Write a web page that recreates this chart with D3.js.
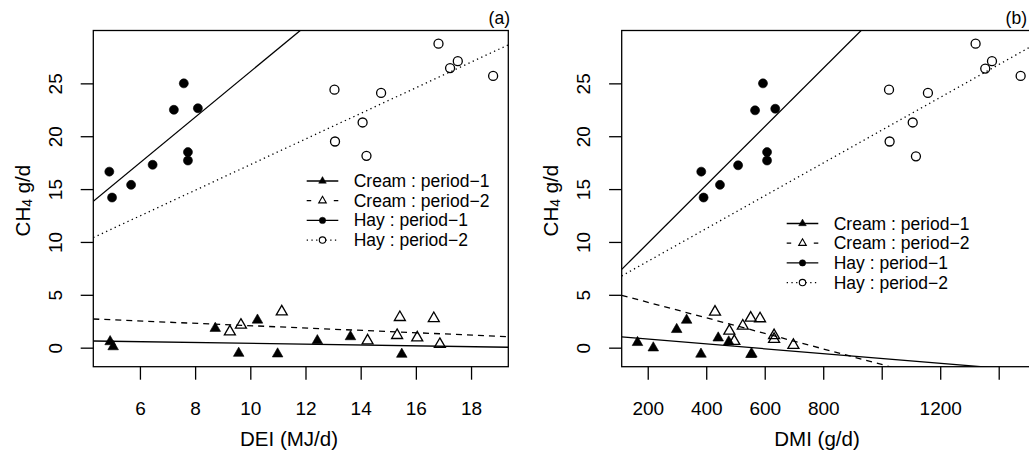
<!DOCTYPE html>
<html>
<head>
<meta charset="utf-8">
<script src="https://cdn.jsdelivr.net/npm/d3@7"></script>
<style>
  body { margin: 0; background: #fff; }
  svg { display: block; }
  text { font-family: "Liberation Sans", Arial, Helvetica, sans-serif; fill: #000; }
</style>
</head>
<body>
<svg id="chart" width="1029" height="452"></svg>
<script>
// ---------- Panel (a): CH4 against digestible energy intake (MJ/d) ----------
const deiCreamP1 = [4.92, 5.03, 8.73, 9.58, 10.26, 10.99, 12.43, 13.63, 15.49];
const ch4CreamP1a = [0.57, 0.09, 1.83, -0.53, 2.61, -0.59, 0.66, 1.04, -0.62];
const deiCreamP2 = [9.26, 9.66, 11.14, 14.25, 15.32, 15.42, 16.05, 16.65, 16.87];
const ch4CreamP2a = [1.51, 2.14, 3.40, 0.66, 1.17, 2.87, 0.94, 2.77, 0.32];
const deiHayP1 = [4.89, 4.99, 5.68, 6.46, 7.23, 7.59, 7.74, 7.74, 8.10];
const ch4HayP1a = [16.65, 14.2, 15.4, 17.3, 22.5, 25.0, 18.5, 17.7, 22.65];
const deiHayP2 = [13.05, 13.07, 14.07, 14.21, 14.74, 16.82, 17.24, 17.52, 18.80];
const ch4HayP2a = [24.4, 19.5, 21.3, 18.15, 24.1, 28.75, 26.45, 27.1, 25.7];
// fitted lines, order: Cream p1, Cream p2, Hay p1, Hay p2
const fitInterceptA = [0.80, 3.19, 4.56, 5.19];
const fitSlopeA = [-0.0392, -0.111, 2.154, 1.212];
const deiTicks = [6, 8, 10, 12, 14, 16, 18];

// ---------- Panel (b): CH4 against dry matter intake (g/d) ----------
const dmiCreamP1 = [165, 219, 299, 333, 382, 441, 477, 553, 556];
const ch4CreamP1b = [0.49, -0.02, 1.72, 2.60, -0.61, 0.92, 0.55, -0.64, -0.60];
const dmiCreamP2 = [430, 479, 496, 525, 552, 584, 632, 632, 698];
const ch4CreamP2b = [3.38, 1.58, 0.61, 2.06, 2.81, 2.75, 1.15, 0.80, 0.24];
const dmiHayP1 = [383, 391, 447, 509, 567, 594, 608, 608, 636];
const ch4HayP1b = [16.65, 14.2, 15.4, 17.25, 22.45, 25.0, 18.5, 17.7, 22.6];
const dmiHayP2 = [1025, 1027, 1106, 1117, 1158, 1321, 1354, 1377, 1475];
const ch4HayP2b = [24.4, 19.5, 21.3, 18.1, 24.1, 28.75, 26.4, 27.1, 25.7];
const fitInterceptB = [1.27, 5.77, 4.34, 5.06];
const fitSlopeB = [-0.00229, -0.00736, 0.0276, 0.01551];
const dmiTicks = [200, 400, 600, 800, 1000, 1200, 1400];
const dmiTickLabels = ["200", "400", "600", "800", "", "1200", ""];

const ch4Ticks = [0, 5, 10, 15, 20, 25];
const legendLabels = ["Cream : period\u22121", "Cream : period\u22122", "Hay : period\u22121", "Hay : period\u22122"];

// ---------- shared styling ----------
const groupStyle = [
  { shape: "triangle", filled: true,  dash: null },
  { shape: "triangle", filled: false, dash: "6,5" },
  { shape: "circle",   filled: true,  dash: null },
  { shape: "circle",   filled: false, dash: "1.3,3.4" }
];
const legendDash = [null, "4.5,22.6", null, "1.3,3.4"];

const svg = d3.select("#chart");
const yDomain = [-1.8, 30.0];
const plotTop = 30.5, plotBottom = 366.7;

function markPath(shape, size) {
  if (shape === "circle") {
    const r = size;
    return `M${-r},0a${r},${r} 0 1,0 ${2 * r},0a${r},${r} 0 1,0 ${-2 * r},0Z`;
  }
  // point-up triangle centred on its centroid; size = half base width
  const h = size * Math.sqrt(3);
  return `M0,${-2 * h / 3}L${size},${h / 3}L${-size},${h / 3}Z`;
}

function drawPanel(cfg) {
  const x = d3.scaleLinear().domain(cfg.xDomain).range([cfg.left, cfg.right]);
  const y = d3.scaleLinear().domain(yDomain).range([plotBottom, plotTop]);
  const g = svg.append("g");
  const clipId = "clip-" + cfg.tag;

  g.append("clipPath").attr("id", clipId)
    .append("rect")
    .attr("x", cfg.left).attr("y", plotTop)
    .attr("width", cfg.right - cfg.left).attr("height", plotBottom - plotTop);

  // fitted lines
  const lineGen = d3.line().x(d => x(d[0])).y(d => y(d[1]));
  const lines = g.append("g").attr("clip-path", `url(#${clipId})`);
  cfg.intercepts.forEach((b0, i) => {
    const b1 = cfg.slopes[i];
    const pts = cfg.xDomain.map(v => [v, b0 + b1 * v]);
    lines.append("path")
      .attr("d", lineGen(pts))
      .attr("fill", "none")
      .attr("stroke", "#000")
      .attr("stroke-width", 1.3)
      .attr("stroke-dasharray", groupStyle[i].dash);
  });

  // points
  cfg.groups.forEach((grp, i) => {
    const st = groupStyle[i];
    const size = st.shape === "circle" ? 4.5 : (st.filled ? 5.3 : 5.5);
    g.append("g").selectAll("path")
      .data(grp.xs.map((v, k) => [v, grp.ys[k]]))
      .join("path")
      .attr("transform", d => `translate(${x(d[0])},${y(d[1])})`)
      .attr("d", markPath(st.shape, size))
      .attr("fill", st.filled ? "#000" : "none")
      .attr("stroke", "#000")
      .attr("stroke-width", st.filled ? 0.6 : 1.3)
      .attr("stroke-linejoin", "miter");
  });

  // box
  g.append("rect")
    .attr("x", cfg.left).attr("y", plotTop)
    .attr("width", cfg.right - cfg.left).attr("height", plotBottom - plotTop)
    .attr("fill", "none").attr("stroke", "#000").attr("stroke-width", 1.3);

  // x axis
  const xAxis = g.append("g")
    .attr("transform", `translate(0,${plotBottom})`)
    .call(d3.axisBottom(x).tickValues(cfg.xTicks).tickSize(13).tickSizeOuter(0)
      .tickFormat((d, i) => cfg.xTickLabels[i]));
  xAxis.select(".domain").remove();
  xAxis.selectAll(".tick line").attr("stroke", "#000").attr("stroke-width", 1.3);
  xAxis.selectAll(".tick text")
    .attr("y", 48.5).attr("dy", null)
    .attr("font-size", 19)
    .attr("font-family", "Liberation Sans, Arial, sans-serif");

  // y axis
  const yAxis = g.append("g")
    .attr("transform", `translate(${cfg.left},0)`)
    .call(d3.axisLeft(y).tickValues(ch4Ticks).tickSize(12.6).tickSizeOuter(0));
  yAxis.select(".domain").remove();
  yAxis.selectAll(".tick line").attr("stroke", "#000").attr("stroke-width", 1.3);
  yAxis.selectAll(".tick text")
    .attr("x", null).attr("dy", null)
    .attr("transform", "translate(-38.3,0) rotate(-90)")
    .attr("text-anchor", "middle")
    .attr("dominant-baseline", "central")
    .attr("font-size", 19)
    .attr("font-family", "Liberation Sans, Arial, sans-serif");

  // axis titles
  g.append("text")
    .attr("x", cfg.xTitleX).attr("y", 446)
    .attr("text-anchor", "middle")
    .attr("font-size", 20.5)
    .text(cfg.xTitle);

  const yt = g.append("text")
    .attr("transform", `translate(${cfg.left - 71.6},${(plotTop + plotBottom) / 2 + 2}) rotate(-90)`)
    .attr("text-anchor", "middle")
    .attr("dominant-baseline", "central")
    .attr("font-size", 20.5);
  yt.append("tspan").text("CH");
  yt.append("tspan").attr("font-size", 14).attr("dy", 5).text("4");
  yt.append("tspan").attr("dy", -5).text(" g/d");

  // panel tag
  g.append("text")
    .attr("x", cfg.tagX).attr("y", 24)
    .attr("text-anchor", "end")
    .attr("font-size", 17.5)
    .text(cfg.tagText);

  // legend
  const lg = g.append("g");
  legendLabels.forEach((lab, i) => {
    const cy = cfg.legendY + i * 19.7;
    const st = groupStyle[i];
    lg.append("line")
      .attr("x1", cfg.legendX).attr("x2", cfg.legendX + 31.6)
      .attr("y1", cy).attr("y2", cy)
      .attr("stroke", "#000").attr("stroke-width", 1.3)
      .attr("stroke-dasharray", legendDash[i]);
    lg.append("path")
      .attr("transform", `translate(${cfg.legendX + 15.8},${cy})`)
      .attr("d", markPath(st.shape, st.shape === "circle" ? 3.2 : 3.8))
      .attr("fill", st.filled ? "#000" : "#fff")
      .attr("stroke", "#000")
      .attr("stroke-width", st.filled ? 0.5 : 1.1);
    lg.append("text")
      .attr("x", cfg.legendX + 47).attr("y", cy)
      .attr("dominant-baseline", "central")
      .attr("font-size", 17.5)
      .text(lab);
  });
}

drawPanel({
  tag: "a", tagText: "(a)", tagX: 510,
  left: 93.3, right: 508.3,
  xDomain: [4.31, 19.35],
  xTicks: deiTicks, xTickLabels: deiTicks.map(String),
  xTitle: "DEI (MJ/d)", xTitleX: 289,
  intercepts: fitInterceptA, slopes: fitSlopeA,
  groups: [
    { xs: deiCreamP1, ys: ch4CreamP1a },
    { xs: deiCreamP2, ys: ch4CreamP2a },
    { xs: deiHayP1, ys: ch4HayP1a },
    { xs: deiHayP2, ys: ch4HayP2a }
  ],
  legendX: 306.7, legendY: 181
});

drawPanel({
  tag: "b", tagText: "(b)", tagX: 1027,
  left: 621.7, right: 1036,
  xDomain: [111, 1527.5],
  xTicks: dmiTicks, xTickLabels: dmiTickLabels,
  xTitle: "DMI (g/d)", xTitleX: 817,
  intercepts: fitInterceptB, slopes: fitSlopeB,
  groups: [
    { xs: dmiCreamP1, ys: ch4CreamP1b },
    { xs: dmiCreamP2, ys: ch4CreamP2b },
    { xs: dmiHayP1, ys: ch4HayP1b },
    { xs: dmiHayP2, ys: ch4HayP2b }
  ],
  legendX: 786.7, legendY: 223.5
});
</script>
</body>
</html>
